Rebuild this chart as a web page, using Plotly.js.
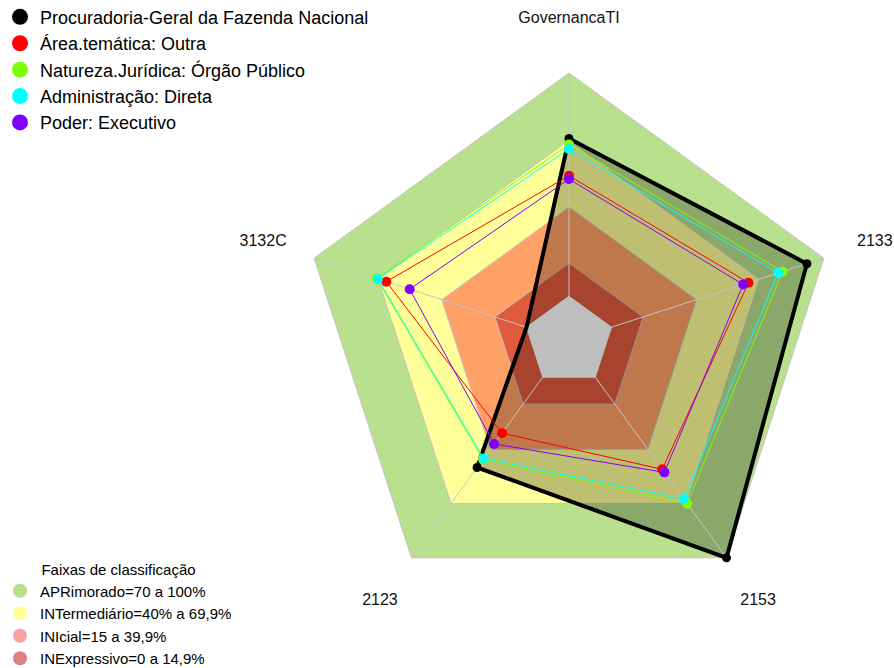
<!DOCTYPE html>
<html><head><meta charset="utf-8">
<script src="https://cdn.plot.ly/plotly-3.0.1.min.js"></script>
<style>body{margin:0;background:#fff}#chart{width:894px;height:668px}</style>
</head><body><div id="chart"></div>
<script>
// ---- data ----
const categories = ['GovernancaTI', '3132C', '2123', '2153', '2133'];
const seriesNames = ['Procuradoria-Geral da Fazenda Nacional', 'Área.temática: Outra',
  'Natureza.Jurídica: Órgão Público', 'Administração: Direta', 'Poder: Executivo'];
const pgfn = [70.7, 0, 50, 100, 92];
const areaOutra = [54, 66, 31, 51, 64.5];
const naturezaOrgao = [68, 70.5, 45.5, 70, 80.5];
const adminDireta = [66, 70, 45, 67.5, 78.5];
const poderExecutivo = [52.5, 55, 37, 52.7, 62];
const seriesValues = [pgfn, areaOutra, naturezaOrgao, adminDireta, poderExecutivo];
const seriesColors = ['#000000', '#FF0000', '#80FF00', '#00FFFF', '#8000FF'];

const bandNames = ['APRimorado=70 a 100%', 'INTermediário=40% a 69,9%', 'INIcial=15 a 39,9%', 'INExpressivo=0 a 14,9%'];
const bandLevels = [100, 69.9, 39.9, 14.9];
const bandFill = ['#B9E08D', '#FFFF99', '#FFA066', '#E05A3C'];
const bandLegendColors = ['#B8E08C', '#FFFF99', '#F7A1A1', '#DC8282'];
const centerLevel = 0;
const centerFill = '#BEBEBE';
const labelLevel = 124;   // axis labels sit at 1.2x the outer radius
const radialRange = [-20, 125];

// ---- traces ----
const closeT = categories.concat([categories[0]]);
const close = a => a.concat([a[0]]);
const traces = [];
const gridLine = {color: '#C4C4C4', width: 1};

bandLevels.forEach((lv, i) => {
  traces.push({type: 'scatterpolar', r: closeT.map(() => lv), theta: closeT, mode: 'lines',
    fill: 'toself', fillcolor: bandFill[i], line: gridLine, showlegend: false, hoverinfo: 'skip'});
});

// main series translucent fill
traces.push({type: 'scatterpolar', r: close(pgfn), theta: closeT, mode: 'none',
  fill: 'toself', fillcolor: 'rgba(0,0,0,0.25)', showlegend: false, hoverinfo: 'skip'});

// center
traces.push({type: 'scatterpolar', r: closeT.map(() => centerLevel), theta: closeT, mode: 'lines',
  fill: 'toself', fillcolor: centerFill, line: gridLine, showlegend: false, hoverinfo: 'skip'});

// spokes
const spR = [], spT = [];
categories.forEach(c => { spR.push(centerLevel, bandLevels[0], null); spT.push(c, c, null); });
traces.push({type: 'scatterpolar', r: spR, theta: spT, mode: 'lines',
  line: gridLine, showlegend: false, hoverinfo: 'skip'});

// series lines and points
seriesValues.forEach((vals, i) => {
  const isMain = i === 0;
  traces.push({type: 'scatterpolar', r: close(vals), theta: closeT, mode: 'lines',
    line: {color: seriesColors[i], width: isMain ? 4 : 1}, showlegend: false, hoverinfo: 'skip'});
  traces.push({type: 'scatterpolar', r: vals, theta: categories, mode: 'markers',
    marker: {color: seriesColors[i], size: isMain ? 9 : 10}, showlegend: false, name: seriesNames[i]});
});

// axis labels
traces.push({type: 'scatterpolar', r: categories.map(() => labelLevel), theta: categories,
  mode: 'text', text: categories, textposition: 'middle center', cliponaxis: false,
  textfont: {size: 16, color: '#111'}, showlegend: false, hoverinfo: 'skip'});

// legend entries
seriesNames.forEach((n, i) => {
  traces.push({type: 'scatterpolar', r: [null], theta: [null], mode: 'markers', name: n,
    marker: {color: seriesColors[i], size: 16}, legend: 'legend', showlegend: true});
});
bandNames.forEach((n, i) => {
  traces.push({type: 'scatterpolar', r: [null], theta: [null], mode: 'markers', name: n,
    marker: {color: bandLegendColors[i], size: 14}, legend: 'legend2', showlegend: true});
});

const W = 894, H = 668;
const cx = 569, cy = 341, R = 268 * (radialRange[1] - radialRange[0]) / 120;
const layout = {
  width: W, height: H,
  margin: {l: 0, r: 0, t: 0, b: 0, autoexpand: false},
  paper_bgcolor: '#FFFFFF',
  font: {family: 'Liberation Sans, Arial, sans-serif', color: '#000'},
  polar: {
    domain: {x: [(cx - R) / W, (cx + R) / W], y: [1 - (cy + R) / H, 1 - (cy - R) / H]},
    gridshape: 'linear',
    bgcolor: 'rgba(0,0,0,0)',
    radialaxis: {range: radialRange, visible: false, showgrid: false, showline: false,
      showticklabels: false, ticks: ''},
    angularaxis: {type: 'category', categoryarray: categories, rotation: 90,
      direction: 'counterclockwise', showgrid: false, showline: false,
      showticklabels: false, ticks: ''}
  },
  legend: {x: 0, xanchor: 'left', y: 1.002, yanchor: 'top', itemwidth: 30,
    bgcolor: 'rgba(0,0,0,0)', font: {size: 18, color: '#000'}},
  legend2: {x: 0, xanchor: 'left', y: -0.0105, yanchor: 'bottom', itemwidth: 30,
    bgcolor: 'rgba(0,0,0,0)', font: {size: 15, color: '#000'},
    title: {text: 'Faixas de classificação', side: 'top center', font: {size: 15, color: '#000'}}},
  showlegend: true
};
Plotly.newPlot('chart', traces, layout, {displayModeBar: false, staticPlot: true});
</script>
</body></html>
